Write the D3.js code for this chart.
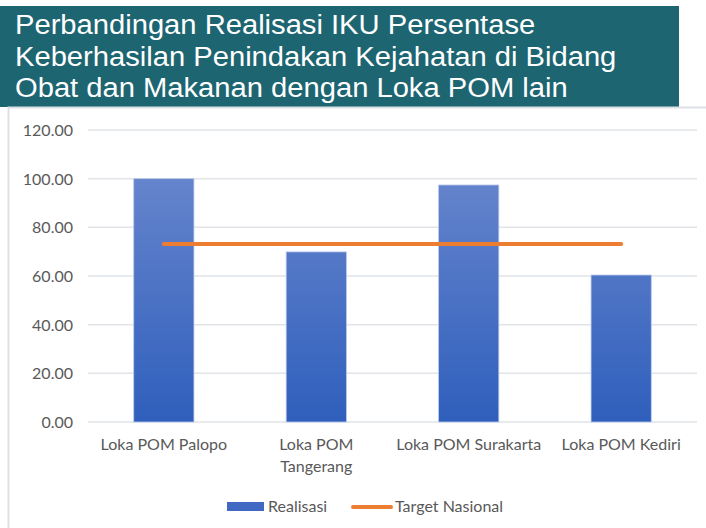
<!DOCTYPE html>
<html>
<head>
<meta charset="utf-8">
<script src="https://cdn.jsdelivr.net/npm/d3@7"></script>
<style>
  body { margin: 0; background: #fff; }
  svg { display: block; }
</style>
</head>
<body>
<svg id="chart" width="706" height="528"></svg>
<script>
// data
const titleLines = [
    "Perbandingan Realisasi IKU Persentase",
    "Keberhasilan Penindakan Kejahatan di Bidang",
    "Obat dan Makanan dengan Loka POM lain"
];
const categories = ["Loka POM Palopo", "Loka POM Tangerang", "Loka POM Surakarta", "Loka POM Kediri"];
const realisasi = [100.0, 69.9, 97.4, 60.4];
const target = [73.2, 73.2, 73.2, 73.2];
const yTicks = [0, 20, 40, 60, 80, 100, 120];
const seriesNames = ["Realisasi", "Target Nasional"];

const svg = d3.select("#chart");
const labelFont = "Lato, 'Open Sans', sans-serif";
const labelSize = 16;
const labelColor = "#595959";

// title banner
svg.append("rect")
    .attr("x", 0).attr("y", 6)
    .attr("width", 679).attr("height", 101)
    .attr("fill", "#1d6571");

// the original title is a bit stretched sideways
svg.append("g")
    .selectAll("text")
    .data(titleLines)
    .enter()
    .append("text")
    .attr("transform", (d, i) => `translate(15,${34 + i * 31.5}) scale(1.08,1)`)
    .attr("fill", "#ffffff")
    .attr("font-family", "'Liberation Sans', Arial, sans-serif")
    .attr("font-size", 27)
    .text(d => d);

// chart frame
svg.append("path")
    .attr("d", "M8.5,528 V107.5 H706")
    .attr("fill", "none")
    .attr("stroke", "#dde1e6")
    .attr("stroke-width", 2);

const plot = { left: 88, right: 697, top: 130, bottom: 422 };

const x = d3.scaleBand()
    .domain(categories)
    .range([plot.left, plot.right])
    .paddingInner(0.605)
    .paddingOuter(0.3);

const y = d3.scaleLinear()
    .domain([0, 120])
    .range([plot.bottom, plot.top]);

// gridlines
svg.append("g")
    .selectAll("line")
    .data(yTicks)
    .enter()
    .append("line")
    .attr("x1", plot.left).attr("x2", plot.right)
    .attr("y1", d => y(d)).attr("y2", d => y(d))
    .attr("stroke", "#e1e4e8")
    .attr("stroke-width", 1.5);

// y axis labels
const yAxis = svg.append("g")
    .attr("transform", `translate(${plot.left - 15},0)`)
    .call(d3.axisLeft(y).tickValues(yTicks).tickFormat(d3.format(".2f")).tickSize(0).tickPadding(0));
yAxis.select(".domain").remove();
yAxis.selectAll("text")
    .attr("font-family", labelFont)
    .attr("font-size", labelSize)
    .attr("fill", labelColor)
    .attr("dy", "0.35em");

// bar gradient
const defs = svg.append("defs");
const grad = defs.append("linearGradient")
    .attr("id", "barGrad")
    .attr("gradientUnits", "userSpaceOnUse")
    .attr("x1", 0).attr("x2", 0)
    .attr("y1", y(100)).attr("y2", y(0));
grad.append("stop").attr("offset", "0%").attr("stop-color", "#6584cc");
grad.append("stop").attr("offset", "100%").attr("stop-color", "#2f5fbc");

svg.append("g")
    .selectAll("rect")
    .data(realisasi)
    .enter()
    .append("rect")
    .attr("x", (d, i) => x(categories[i]))
    .attr("y", d => y(d))
    .attr("width", x.bandwidth())
    .attr("height", d => y(0) - y(d))
    .attr("fill", "url(#barGrad)")
    .attr("stroke", "#b9c8ea")
    .attr("stroke-width", 0.8);

// target line
const line = d3.line()
    .x((d, i) => x(categories[i]) + x.bandwidth() / 2)
    .y(d => y(d));

svg.append("path")
    .datum(target)
    .attr("d", line)
    .attr("fill", "none")
    .attr("stroke", "#ed7d31")
    .attr("stroke-width", 4)
    .attr("stroke-linecap", "round");

// x labels (Tangerang wraps onto two lines like the reference)
const xLabels = svg.append("g")
    .selectAll("text")
    .data(categories)
    .enter()
    .append("text")
    .attr("y", 450)
    .attr("text-anchor", "middle")
    .attr("font-family", labelFont)
    .attr("font-size", labelSize)
    .attr("fill", labelColor);

xLabels.each(function(d) {
    const t = d3.select(this);
    const cx = x(d) + x.bandwidth() / 2;
    const parts = d === "Loka POM Tangerang" ? ["Loka POM", "Tangerang"] : [d];
    parts.forEach((p, i) => {
        t.append("tspan")
            .attr("x", cx)
            .attr("dy", i === 0 ? 0 : 21.5)
            .text(p);
    });
});

// legend
const legend = svg.append("g");
legend.append("rect")
    .attr("x", 227).attr("y", 502)
    .attr("width", 37).attr("height", 9)
    .attr("fill", "#4169c4");
legend.append("text")
    .attr("x", 268).attr("y", 512)
    .attr("font-family", labelFont)
    .attr("font-size", labelSize)
    .attr("fill", labelColor)
    .text(seriesNames[0]);
legend.append("line")
    .attr("x1", 353).attr("x2", 391)
    .attr("y1", 507).attr("y2", 507)
    .attr("stroke", "#ed7d31")
    .attr("stroke-width", 4)
    .attr("stroke-linecap", "round");
legend.append("text")
    .attr("x", 395).attr("y", 512)
    .attr("font-family", labelFont)
    .attr("font-size", labelSize)
    .attr("fill", labelColor)
    .text(seriesNames[1]);
</script>
</body>
</html>
